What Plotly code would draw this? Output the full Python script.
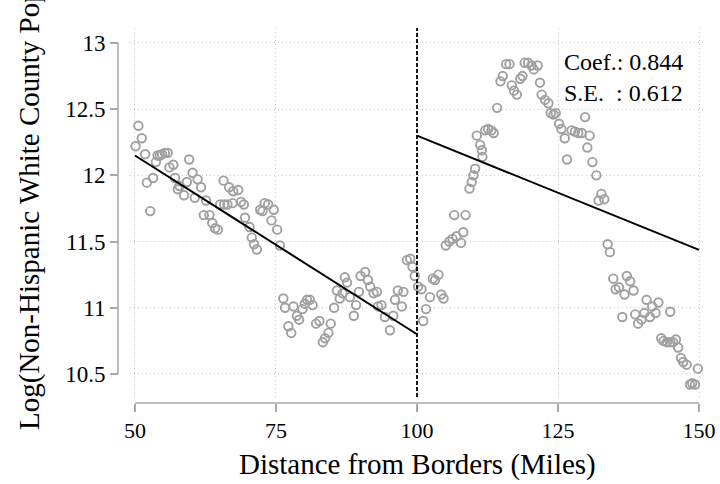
import plotly.graph_objects as go

# ---- data ----
dist_left = [50.1, 50.6, 51.2, 51.8, 52.1, 52.7, 53.2, 53.7, 54.0, 54.4, 54.8, 55.3, 55.8,
             56.1, 56.8, 57.1, 57.6, 57.9, 58.7, 59.2, 59.6, 60.2, 60.6, 61.1, 61.7, 62.2,
             62.6, 63.2, 63.7, 64.2, 64.7, 65.1, 65.7, 65.8, 66.4, 66.7, 67.3, 67.4, 68.3,
             68.8, 69.3, 69.5, 70.3, 70.7, 71.1, 71.6, 72.2, 72.6, 73.0, 73.6, 74.2, 74.6,
             75.2, 75.7, 76.3, 76.6, 77.2, 77.7, 78.1, 78.7, 79.1, 79.7, 80.1, 80.5, 81.0,
             81.5, 82.1, 82.7, 83.3, 83.7, 84.3, 84.7, 85.3, 85.8, 86.3, 86.8, 87.2, 87.6,
             88.1, 88.8, 89.2, 89.7, 90.0, 90.8, 91.3, 91.7, 92.3, 92.9, 93.1, 93.7, 94.3,
             95.2, 95.8, 96.1, 96.6, 97.3, 97.6, 98.2, 98.8, 99.2, 99.6]
logpop_left = [12.22, 12.375, 12.28, 12.16, 11.945, 11.73, 11.98, 12.10, 12.15, 12.15, 12.16,
               12.17, 12.17, 12.06, 12.08, 11.98, 11.895, 11.92, 11.85, 11.95, 12.12, 12.02,
               11.83, 11.97, 11.91, 11.70, 11.81, 11.70, 11.64, 11.60, 11.59, 11.78, 11.96,
               11.78, 11.78, 11.91, 11.79, 11.88, 11.89, 11.80, 11.78, 11.68, 11.61, 11.53,
               11.48, 11.44, 11.74, 11.73, 11.79, 11.78, 11.66, 11.74, 11.59, 11.47, 11.07,
               11.00, 10.86, 10.81, 11.01, 10.94, 10.91, 10.99, 11.03, 11.06, 11.06, 11.02,
               10.88, 10.90, 10.74, 10.77, 10.81, 10.88, 11.00, 11.13, 11.07, 11.11, 11.23,
               11.19, 11.08, 10.94, 11.02, 11.12, 11.24, 11.27, 11.21, 11.16, 11.11, 11.12,
               11.01, 11.02, 10.93, 10.83, 10.94, 11.06, 11.13, 11.01, 11.12, 11.36, 11.37,
               11.31, 11.24]

dist_right = [100.2, 100.8, 101.1, 101.6, 102.3, 102.8, 103.2, 103.8, 104.3, 104.7, 105.1,
              105.7, 106.3, 106.6, 107.0, 107.8, 108.2, 108.6, 109.3, 109.7, 110.0, 110.3,
              110.6, 111.2, 111.5, 111.6, 112.1, 112.6, 113.2, 113.6, 114.2, 114.8, 115.2,
              115.8, 116.4, 116.8, 117.2, 117.7, 118.3, 118.7, 119.1, 119.7, 120.3, 120.7,
              121.4, 121.8, 122.1, 122.7, 123.3, 123.7, 124.2, 124.6, 125.2, 125.6, 126.2,
              126.6, 127.4, 128.0, 128.6, 129.2, 129.8, 130.2, 130.6, 131.1, 131.8, 132.2,
              132.7, 133.2, 133.8, 134.2, 134.8, 135.2, 135.8, 136.4, 136.8, 137.2, 137.8,
              138.4, 138.7, 139.2, 139.8, 140.3, 140.7, 141.3, 141.7, 142.3, 142.8, 143.3,
              143.7, 144.3, 144.9, 144.9, 145.4, 145.9, 146.3, 146.8, 147.2, 147.8, 148.4,
              148.8, 149.3, 149.8]
logpop_right = [11.16, 11.14, 10.90, 10.99, 11.08, 11.22, 11.21, 11.25, 11.10, 11.07, 11.47,
                11.50, 11.52, 11.70, 11.54, 11.49, 11.57, 11.70, 11.90, 11.95, 12.00, 12.05,
                12.30, 12.23, 12.19, 12.14, 12.34, 12.35, 12.34, 12.32, 12.51, 12.71, 12.75,
                12.84, 12.84, 12.68, 12.64, 12.61, 12.73, 12.75, 12.85, 12.85, 12.83, 12.80,
                12.83, 12.70, 12.61, 12.57, 12.545, 12.47, 12.46, 12.47, 12.39, 12.35, 12.28,
                12.12, 12.34, 12.33, 12.32, 12.32, 12.44, 12.21, 12.30, 12.10, 12.00, 11.81,
                11.86, 11.82, 11.48, 11.42, 11.22, 11.14, 11.155, 10.93, 11.10, 11.24, 11.20,
                11.13, 10.95, 10.88, 10.91, 10.96, 11.06, 10.93, 11.01, 10.96, 11.04, 10.77,
                10.75, 10.74, 10.74, 10.97, 10.74, 10.76, 10.70, 10.62, 10.59, 10.57, 10.42,
                10.43, 10.42, 10.54]

fit_left_x = [50, 100]
fit_left_y = [12.15, 10.80]
fit_right_x = [100, 150]
fit_right_y = [12.30, 11.437]
cutoff = 100

x_ticks = [50, 75, 100, 125, 150]
y_ticks = [10.5, 11, 11.5, 12, 12.5, 13]
y_ticktext = ["10.5", "11", "11.5", "12", "12.5", "13"]

coef_text = "Coef.: 0.844"
se_text = "S.E.\u00a0\u00a0: 0.612"
x_title = "Distance from Borders (Miles)"
y_title = "Log(Non-Hispanic White County Population)"

# ---- styling ----
FONT = "Liberation Serif"
MARK = "#a0a0a0"
AXIS = "#a9a9a9"
GRID = "#c8c8c8"

fig = go.Figure()
fig.add_trace(go.Scatter(x=dist_left + dist_right, y=logpop_left + logpop_right,
                         mode="markers", cliponaxis=False,
                         marker=dict(symbol="circle-open", size=8.5, color=MARK,
                                     line=dict(width=1.9, color=MARK)),
                         showlegend=False))
fig.add_trace(go.Scatter(x=fit_left_x, y=fit_left_y, mode="lines",
                         line=dict(color="black", width=2), showlegend=False))
fig.add_trace(go.Scatter(x=fit_right_x, y=fit_right_y, mode="lines",
                         line=dict(color="black", width=2), showlegend=False))
fig.add_vline(x=cutoff, line=dict(color="black", width=1.8, dash="4px,2px"))

# detached axis lines spanning only the tick range
fig.add_shape(type="line", xref="paper", yref="y", x0=0, x1=0,
              y0=y_ticks[0], y1=y_ticks[-1], line=dict(color=AXIS, width=1.5))
fig.add_shape(type="line", xref="x", yref="paper", y0=0, y1=0,
              x0=x_ticks[0], x1=x_ticks[-1], line=dict(color=AXIS, width=1.5))

fig.add_annotation(text=coef_text + "<br>" + se_text, xref="paper", yref="paper",
                   x=0.755, y=0.868, xanchor="left", yanchor="middle", align="left",
                   showarrow=False, font=dict(family=FONT, size=24, color="black"))
fig.add_annotation(text=x_title, xref="x domain", yref="paper", x=0.5, y=-0.165,
                   xanchor="center", yanchor="middle", showarrow=False,
                   font=dict(family=FONT, size=29, color="black"))
fig.add_annotation(text=y_title, xref="paper", yref="paper", x=-0.1497, y=-0.0773,
                   xanchor="center", yanchor="bottom", textangle=-90, showarrow=False,
                   font=dict(family=FONT, size=29, color="black"))

fig.update_layout(
    width=720, height=484,
    margin=dict(l=118, r=14, t=28, b=81, autoexpand=False),
    paper_bgcolor="white", plot_bgcolor="white",
    font=dict(family=FONT, size=22, color="black"),
    xaxis=dict(domain=[0.0204, 1], anchor="free", position=0, automargin=False,
               range=[49.113, 151.24], tickvals=x_ticks,
               ticks="outside", ticklen=8, tickwidth=1.5, tickcolor=AXIS,
               showline=False, zeroline=False,
               showgrid=True, gridcolor=GRID, griddash="1px,3px", gridwidth=1,
               tickfont=dict(family=FONT, size=22, color="black")),
    yaxis=dict(domain=[0.016, 1], anchor="free", position=0, automargin=False,
               range=[10.326, 13.113], tickvals=y_ticks, ticktext=y_ticktext,
               ticks="outside", ticklen=8, tickwidth=1.5, tickcolor=AXIS,
               showline=False, zeroline=False,
               showgrid=True, gridcolor=GRID, griddash="1px,3px", gridwidth=1,
               tickfont=dict(family=FONT, size=23, color="black")),
)

fig.write_html("out.html")
